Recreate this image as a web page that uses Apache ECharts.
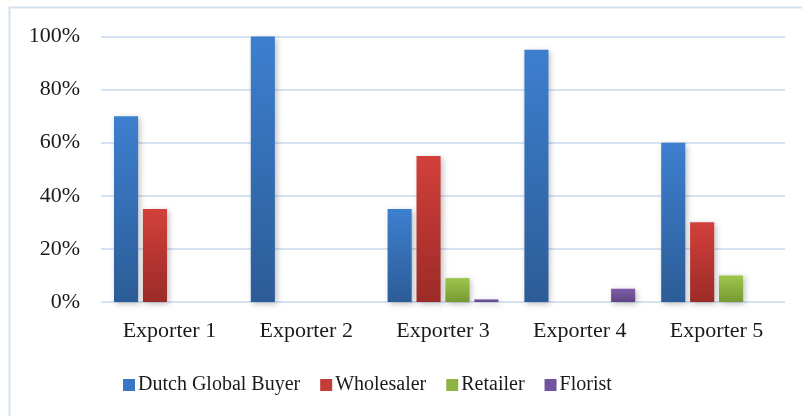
<!DOCTYPE html>
<html>
<head>
<meta charset="utf-8">
<script src="https://cdn.jsdelivr.net/npm/echarts@6/dist/echarts.min.js"></script>
<style>
  html, body { margin: 0; padding: 0; background: #fff; }
  #chart { width: 802px; height: 416px; }
</style>
</head>
<body>
<div id="chart"></div>
<script>
// Share of each exporter's sales by buyer type (%)
const categories = ['Exporter 1', 'Exporter 2', 'Exporter 3', 'Exporter 4', 'Exporter 5'];
const seriesNames = ['Dutch Global Buyer', 'Wholesaler', 'Retailer', 'Florist'];
const dutchGlobalBuyer = [70, 100, 35, 95, 60];
const wholesaler = [35, 0, 55, 0, 30];
const retailer = [0, 0, 9, 0, 10];
const florist = [0, 0, 1, 5, 0];
const yTicks = [0, 20, 40, 60, 80, 100];

const FONT = '"Liberation Serif", "Times New Roman", serif';

function grad(top, bottom) {
  return new echarts.graphic.LinearGradient(0, 0, 0, 1, [
    { offset: 0, color: top },
    { offset: 1, color: bottom }
  ]);
}

const palette = [
  grad('#3d7fcf', '#2c5c97'),
  grad('#d3403b', '#9b2b27'),
  grad('#9ec64b', '#769934'),
  grad('#7f5daa', '#5e4583')
];
const legendColors = ['#3a78c4', '#c33c37', '#8db342', '#7153a0'];
const values = [dutchGlobalBuyer, wholesaler, retailer, florist];

const chart = echarts.init(document.getElementById('chart'), null, { renderer: 'canvas' });

chart.setOption({
  animation: false,
  backgroundColor: '#fff',
  graphic: [{
    type: 'rect',
    shape: { x: 9.5, y: 7.5, width: 820, height: 430 },
    style: { fill: 'none', stroke: '#d3e1f2', lineWidth: 2 },
    silent: true,
    z: 0
  }],
  grid: { left: 101, right: 17, top: 36.5, bottom: 114, containLabel: false },
  legend: {
    top: 370,
    left: 118,
    itemWidth: 12,
    itemHeight: 12,
    itemGap: 20,
    icon: 'rect',
    textStyle: { fontFamily: FONT, fontSize: 20, color: '#1a1a1a', padding: [0, 0, 0, -2] },
    data: seriesNames.map((n, i) => ({ name: n, itemStyle: { color: legendColors[i] } }))
  },
  xAxis: {
    type: 'category',
    data: categories,
    axisLine: { show: false },
    axisTick: { show: false },
    axisLabel: { fontFamily: FONT, fontSize: 22, color: '#1a1a1a', margin: 18 }
  },
  yAxis: {
    type: 'value',
    min: 0,
    max: 100,
    interval: 20,
    axisLine: { show: false },
    axisTick: { show: false },
    axisLabel: {
      fontFamily: FONT, fontSize: 22, color: '#1a1a1a', margin: 21,
      formatter: v => (yTicks.includes(v) ? v + '%' : '')
    },
    splitLine: { lineStyle: { color: '#d6e3f3', width: 2 } }
  },
  series: seriesNames.map((name, i) => ({
    name,
    type: 'bar',
    data: values[i].map(v => (v === 0 ? null : v)),
    barGap: '20%',
    barCategoryGap: '19%',
    itemStyle: {
      color: palette[i],
      shadowColor: 'rgba(0,0,0,0.25)',
      shadowBlur: 6,
      shadowOffsetX: 2,
      shadowOffsetY: 2
    }
  }))
});
</script>
</body>
</html>
